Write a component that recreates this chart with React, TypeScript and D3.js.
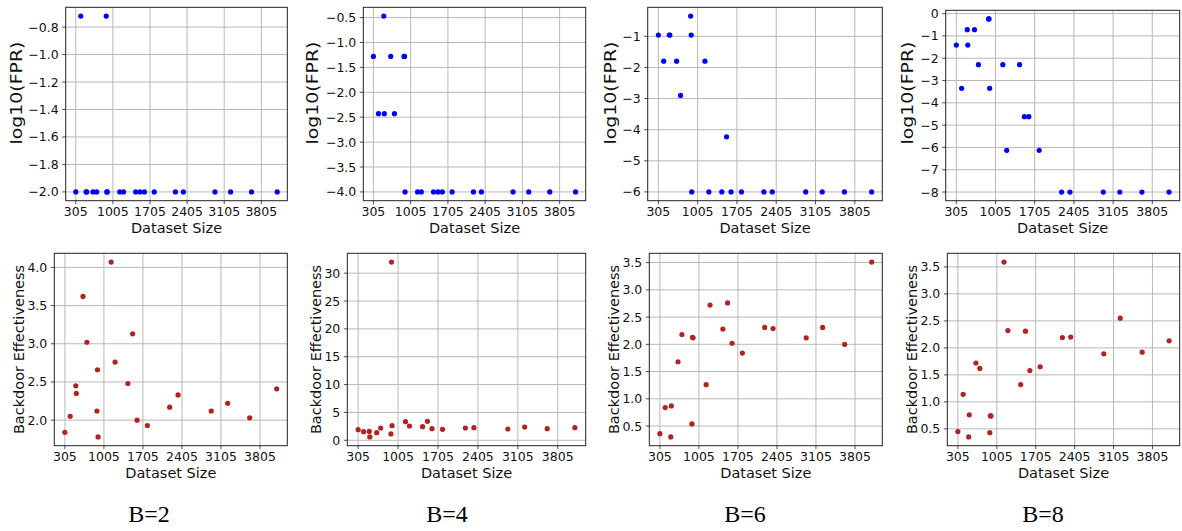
import React from "react";
import * as d3 from "d3";

// ---- data ----
const datasetSizes = [305, 400, 500, 510, 630, 700, 880, 890, 900, 1135, 1205, 1435, 1520, 1600, 1785, 2185, 2335, 2930, 3225, 3620, 4105];

const fprB2 = [-2, -0.72, -2, -2, -2, -2, -0.72, -2, -2, -2, -2, -2, -2, -2, -2, -2, -2, -2, -2, -2, -2];
const fprB4 = [-1.28, -2.43, -0.47, -2.43, -1.28, -2.43, -1.28, -1.28, -4, -4, -4, -4, -4, -4, -4, -4, -4, -4, -4, -4, -4];
const fprB6 = [-0.96, -1.8, -0.96, -0.96, -1.8, -2.9, -0.35, -0.96, -6, -1.8, -6, -6, -4.23, -6, -6, -6, -6, -6, -6, -6, -6];
const fprB8 = [-1.41, -3.35, -0.72, -1.41, -0.72, -2.29, -0.24, -0.24, -3.35, -2.29, -6.13, -2.29, -4.62, -4.62, -6.13, -8, -8, -8, -8, -8, -8];

const effB2 = [1.84, 2.05, 2.45, 2.35, 3.62, 3.02, 2.12, 2.66, 1.78, 4.07, 2.76, 2.48, 3.13, 2.0, 1.93, 2.17, 2.33, 2.12, 2.22, 2.03, 2.41];
const effB4 = [1.91, 1.55, 1.6, 0.6, 1.37, 2.21, 1.14, 32.0, 2.63, 3.35, 2.57, 2.45, 3.4, 2.09, 1.97, 2.21, 2.27, 2.03, 2.39, 2.09, 2.27];
const effB6 = [0.36, 0.84, 0.3, 0.87, 1.68, 2.18, 0.54, 2.13, 2.12, 1.26, 2.72, 2.28, 2.76, 2.02, 1.84, 2.31, 2.29, 2.12, 2.31, 2.0, 3.51];
const effB8 = [0.45, 1.14, 0.35, 0.76, 1.72, 1.62, 0.43, 0.74, 0.74, 3.59, 2.32, 1.32, 2.31, 1.58, 1.65, 2.19, 2.2, 1.89, 2.55, 1.92, 2.13];

const xTickValues = [305, 1005, 1705, 2405, 3105, 3805];

const fprTicksB2 = [-2.0, -1.8, -1.6, -1.4, -1.2, -1.0, -0.8];
const fprTicksB4 = [-4.0, -3.5, -3.0, -2.5, -2.0, -1.5, -1.0, -0.5];
const fprTicksB6 = [-6, -5, -4, -3, -2, -1];
const fprTicksB8 = [-8, -7, -6, -5, -4, -3, -2, -1, 0];

const effTicksB2 = [2.0, 2.5, 3.0, 3.5, 4.0];
const effTicksB4 = [0, 5, 10, 15, 20, 25, 30];
const effTicksB6 = [0.5, 1.0, 1.5, 2.0, 2.5, 3.0, 3.5];
const effTicksB8 = [0.5, 1.0, 1.5, 2.0, 2.5, 3.0, 3.5];

const captions = ["B=2", "B=4", "B=6", "B=8"];

const xLabel = "Dataset Size";
const fprLabel = "log10(FPR)";
const effLabel = "Backdoor Effectiveness";

// ---- layout / style ----
const topLayout = [
  { l: 65.7, r: 287.3, t: 7.3, b: 200.7, lx: 22 },
  { l: 363.3, r: 585.7, t: 7.3, b: 200.7, lx: 318 },
  { l: 647.7, r: 882.3, t: 7.3, b: 200.7, lx: 615.5 },
  { l: 945.7, r: 1179.7, t: 10.3, b: 200.7, lx: 913 },
];
const bottomLayout = [
  { l: 54.3, r: 287.3, t: 253.3, b: 445.7, lx: 24 },
  { l: 347.3, r: 585.7, t: 253.3, b: 445.7, lx: 320.7 },
  { l: 649.3, r: 882.3, t: 253.3, b: 445.7, lx: 619 },
  { l: 947.3, r: 1179.7, t: 253.3, b: 445.7, lx: 916.7 },
];

const SANS = "'DejaVu Sans', sans-serif";
const SERIF = "'Liberation Serif', 'Times New Roman', serif";

type Lay = { l: number; r: number; t: number; b: number; lx: number };

function padded(vals: number[]): [number, number] {
  const [mn, mx] = d3.extent(vals) as [number, number];
  const pad = (mx - mn) * 0.05;
  return [mn - pad, mx + pad];
}

function Panel(props: {
  lay: Lay;
  ys: number[];
  yTicks: number[];
  yFmt: string;
  yLabel: string;
  color: string;
  labelCenterY?: number;
  labelLength?: number;
  labelSize?: number;
}) {
  const { lay, ys, yTicks, yFmt, yLabel, color } = props;
  const x = d3.scaleLinear().domain(padded(datasetSizes)).range([lay.l, lay.r]);
  const y = d3.scaleLinear().domain(padded(ys)).range([lay.b, lay.t]);
  const fmt = d3.format(yFmt);
  const cy = props.labelCenterY ?? (lay.t + lay.b) / 2;
  return (
    <g>
      <rect x={lay.l} y={lay.t} width={lay.r - lay.l} height={lay.b - lay.t} fill="#ffffff" />
      {xTickValues.map((v) => (
        <line key={"gx" + v} x1={x(v)} x2={x(v)} y1={lay.t} y2={lay.b} stroke="#b8b8b8" strokeWidth={1} />
      ))}
      {yTicks.map((v) => (
        <line key={"gy" + v} x1={lay.l} x2={lay.r} y1={y(v)} y2={y(v)} stroke="#b8b8b8" strokeWidth={1} />
      ))}
      {datasetSizes.map((d, i) => (
        <circle key={"p" + i} cx={x(d)} cy={y(ys[i])} r={2.6} fill={color} />
      ))}
      <rect x={lay.l} y={lay.t} width={lay.r - lay.l} height={lay.b - lay.t} fill="none" stroke="#222" strokeWidth={1} />
      {xTickValues.map((v) => (
        <g key={"tx" + v}>
          <line x1={x(v)} x2={x(v)} y1={lay.b} y2={lay.b + 3.5} stroke="#222" strokeWidth={0.8} />
          <text x={x(v)} y={lay.b + 15.5} textAnchor="middle" fontFamily={SANS} fontSize={12.5} fill="#111">
            {v}
          </text>
        </g>
      ))}
      {yTicks.map((v) => (
        <g key={"ty" + v}>
          <line x1={lay.l - 3.5} x2={lay.l} y1={y(v)} y2={y(v)} stroke="#222" strokeWidth={0.8} />
          <text x={lay.l - 7} y={y(v)} dy="0.36em" textAnchor="end" fontFamily={SANS} fontSize={12.5} fill="#111">
            {fmt(v)}
          </text>
        </g>
      ))}
      <text x={(lay.l + lay.r) / 2} y={lay.b + 32} textAnchor="middle" fontFamily={SANS} fontSize={14.5} fill="#111">
        {xLabel}
      </text>
      <text
        transform={`translate(${lay.lx},${cy}) rotate(-90)`}
        textAnchor="middle"
        fontFamily={SANS}
        fontSize={props.labelSize ?? 14.5}
        fill="#111"
        textLength={props.labelLength}
        lengthAdjust={props.labelLength ? "spacingAndGlyphs" : undefined}
      >
        {yLabel}
      </text>
    </g>
  );
}

export default function App() {
  const fprSeries = [fprB2, fprB4, fprB6, fprB8];
  const effSeries = [effB2, effB4, effB6, effB8];
  const fprTicks = [fprTicksB2, fprTicksB4, fprTicksB6, fprTicksB8];
  const effTicks = [effTicksB2, effTicksB4, effTicksB6, effTicksB8];
  const fprFmts = [".1f", ".1f", "d", "d"];
  const effFmts = [".1f", "d", ".1f", ".1f"];
  return (
    <svg
      width={1182}
      height={531}
      style={{ position: "absolute", left: 0, top: 0, background: "#fff" }}
    >
      {captions.map((c, i) => (
        <g key={c}>
          <Panel
            lay={topLayout[i]}
            ys={fprSeries[i]}
            yTicks={fprTicks[i]}
            yFmt={fprFmts[i]}
            yLabel={fprLabel}
            color="#0000ff"
            labelCenterY={93}
            labelLength={103}
            labelSize={15.5}
          />
          <Panel lay={bottomLayout[i]} ys={effSeries[i]} yTicks={effTicks[i]} yFmt={effFmts[i]} yLabel={effLabel} color="#b22222" />
          <text x={149 + 298 * i} y={521.7} textAnchor="middle" fontFamily={SERIF} fontSize={24} fill="#000">
            {c}
          </text>
        </g>
      ))}
    </svg>
  );
}
